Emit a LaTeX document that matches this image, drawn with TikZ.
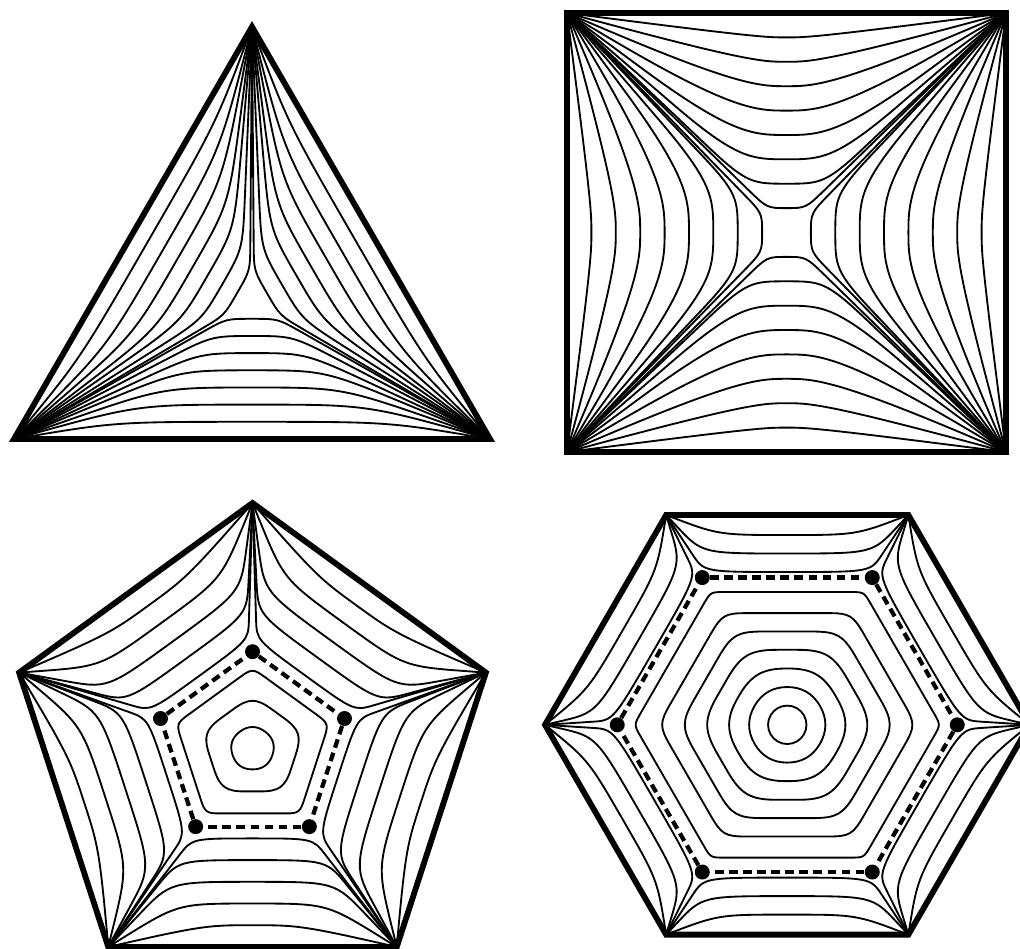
\documentclass[tikz,border=0pt]{standalone}
\usepackage{tikz}
\usetikzlibrary{calc}

% one fan of level curves between the two ends of an edge (edge at y=apothem)
\newcommand{\edgefan}[3]{%
  \foreach \dd/\xc/\fa/\fm in {#3}{
    \coordinate (A) at (-#1,#2);
    \coordinate (B) at (#1,#2);
    \coordinate (M) at (0,#2-\dd);
    \coordinate (KA) at (-#1+\xc,#2-\dd);
    \coordinate (KB) at (#1-\xc,#2-\dd);
    \draw[level] (A) -- ($(KA)!\fa!(A)$) .. controls (KA) and ($(M)!\fm!(KA)$) .. (M)
      .. controls ($(M)!\fm!(KB)$) and (KB) .. ($(KB)!\fa!(B)$) -- (B);
  }}

% closed level curves round the centre: edge distance / corner fraction / control fraction
\newcommand{\ringlevels}[3]{%
  \pgfmathsetmacro{\halfang}{180/#1}
  \pgfmathtruncatemacro{\lastv}{#1-1}
  \foreach \ee/\rr/\cc in {#3}{
    \pgfmathsetmacro{\vv}{\ee/cos(\halfang)}
    \foreach \i in {0,...,\lastv}{
      \coordinate (V\i) at ({#2+2*\halfang*\i}:\vv);
      \coordinate (P\i) at ($(V\i)!\rr!({#2+2*\halfang*\i-\halfang}:\ee)$);
      \coordinate (Q\i) at ($(V\i)!\rr!({#2+2*\halfang*\i+\halfang}:\ee)$);
    }
    \draw[level] (Q\lastv) \foreach \i in {0,...,\lastv}{
      -- (P\i) .. controls ($(P\i)!\cc!(V\i)$) and ($(Q\i)!\cc!(V\i)$) .. (Q\i)} -- cycle;
  }}

\begin{document}
\begin{tikzpicture}[x=0.02cm, y=-0.02cm,
    rim/.style={line width=3.3pt, line join=miter},
    level/.style={line width=1.05pt},
    ridge/.style={line width=2.4pt, dash pattern=on 5pt off 3pt},
    saddle/.style={circle, fill, inner sep=0pt, minimum size=0.3cm}]
  \useasboundingbox (0,0) rectangle (1020,948);
  \clip (0,0) rectangle (1020,948);

  % triangle
  \begin{scope}[shift={(252,301.6)}]
    \foreach \turn in {0,120,240}{
      \begin{scope}[rotate=\turn]
        \edgefan{238}{137.4}{17.2/101/1/1, 34.4/124/0.9/1, 51.5/148/0.7/1, 68.7/165/0.55/1,
          85.9/184/0.4/1, 103/197/0.25/1, 120.2/212/0.11/1}
      \end{scope}
    }
    \draw[rim] (30:274.8) -- (150:274.8) -- (270:274.8) -- cycle;
  \end{scope}

  % square
  \begin{scope}[shift={(786.5,232.5)}]
    \foreach \turn in {0,90,180,270}{
      \begin{scope}[rotate=\turn]
        \edgefan{219.5}{219.5}{24.4/190/1/0.7, 48.8/180/1/0.6, 73.2/170/0.9/0.55, 97.6/165/0.75/0.55,
          122/165/0.55/0.6, 146.3/170/0.38/0.7, 170.7/180/0.22/0.85, 195.1/200/0.1/1}
      \end{scope}
    }
    \draw[rim] (45:310.4) -- (135:310.4) -- (225:310.4) -- (315:310.4) -- cycle;
  \end{scope}

  % pentagon
  \begin{scope}[shift={(252.5,748.4)}]
    \foreach \turn in {0,72,...,288}{
      \begin{scope}[rotate=\turn]
        \edgefan{144.2}{198.5}{21.7/95/1/0.9, 43.4/70/0.8/1, 65.1/62/0.5/1,
          86.8/70/0.3/1, 108.5/84/0.15/1}
      \end{scope}
    }
    \ringlevels{5}{54}{21/1/0.66, 43/0.75/0.8, 65/0.3/0.9}
    \foreach \i in {0,...,4}
      \node[saddle] (p\i) at ({54+72*\i}:96.7) {};
    \foreach \i [evaluate=\i as \j using {int(mod(\i+1,5))}] in {0,...,4}
      \draw[ridge] (p\i) -- (p\j);
    \draw[rim] (54:245.4) -- (126:245.4) -- (198:245.4) -- (270:245.4) -- (342:245.4) -- cycle;
  \end{scope}

  % hexagon
  \begin{scope}[shift={(787.25,724.8)}]
    \foreach \turn in {0,60,...,300}{
      \begin{scope}[rotate=\turn]
        \edgefan{121.1}{209.8}{20/52/1/1, 38.5/36/0.7/1, 57/38/0.3/1}
      \end{scope}
    }
    \ringlevels{6}{0}{19.2/1/0.62, 37.8/1/0.66, 56.3/0.95/0.74, 75/0.77/0.81,
      93.3/0.55/0.86, 111.7/0.37/0.9, 132.8/0.16/0.95}
    \foreach \i in {0,...,5}
      \node[saddle] (h\i) at (60*\i:170) {};
    \foreach \i [evaluate=\i as \j using {int(mod(\i+1,6))}] in {0,...,5}
      \draw[ridge] (h\i) -- (h\j);
    \draw[rim] (0:242.25) -- (60:242.25) -- (120:242.25) -- (180:242.25) -- (240:242.25) -- (300:242.25) -- cycle;
  \end{scope}
\end{tikzpicture}
\end{document}
